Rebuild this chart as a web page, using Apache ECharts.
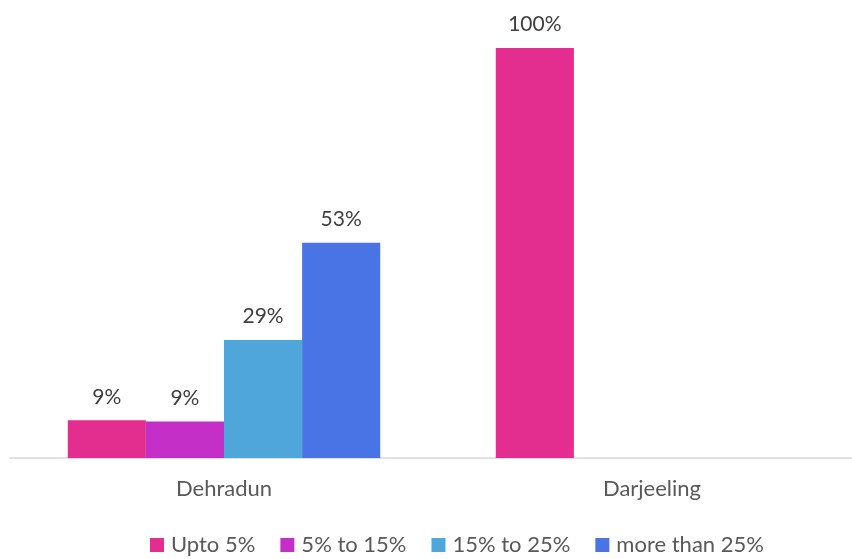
<!DOCTYPE html>
<html><head><meta charset="utf-8">
<script src="https://cdn.jsdelivr.net/npm/echarts@6/dist/echarts.min.js"></script>
<style>html,body{margin:0;padding:0;background:#fff;overflow:hidden;width:852px;height:559px}#c{width:866px;height:559px}</style>
</head><body><div id="c"></div>
<script>
const categories = ["Dehradun", "Darjeeling"];
const seriesNames = ["Upto 5%", "5% to 15%", "15% to 25%", "more than 25%"];
const upto5 = [9.2, 100];
const p5to15 = [8.9, null];
const p15to25 = [28.8, null];
const more25 = [52.5, null];
const colors = ["#E32E8F", "#C42FC8", "#4FA6DA", "#4874E6"];
const values = [upto5, p5to15, p15to25, more25];
const font = "Lato, 'Open Sans', sans-serif";
const chart = echarts.init(document.getElementById('c'));
chart.setOption({
  animation: false,
  grid: {left: 10, top: 48, right: 0, bottom: 101, containLabel: false},
  legend: {
    top: 534, left: 150, padding: 0, itemWidth: 14, itemHeight: 14, itemGap: 25,
    icon: 'rect',
    textStyle: {color: '#595959', fontSize: 22, fontFamily: font, padding: [0,0,0,2]},
    data: seriesNames
  },
  xAxis: {
    type: 'category', data: categories,
    axisLine: {lineStyle: {color: '#d9d9d9', width: 1.5}},
    axisTick: {show: false},
    axisLabel: {color: '#595959', fontSize: 22, fontFamily: font, margin: 20}
  },
  yAxis: {type: 'value', min: 0, max: 100, show: false, splitLine: {show: false}},
  series: seriesNames.map((n, i) => ({
    name: n, type: 'bar', data: values[i],
    barGap: '0%', barCategoryGap: '27%',
    itemStyle: {color: colors[i]},
    label: {show: true, position: 'top', distance: 13, color: '#404040', fontSize: 21, fontFamily: font,
      formatter: p => p.value == null ? '' : Math.round(p.value) + '%'}
  }))
});
</script></body></html>
